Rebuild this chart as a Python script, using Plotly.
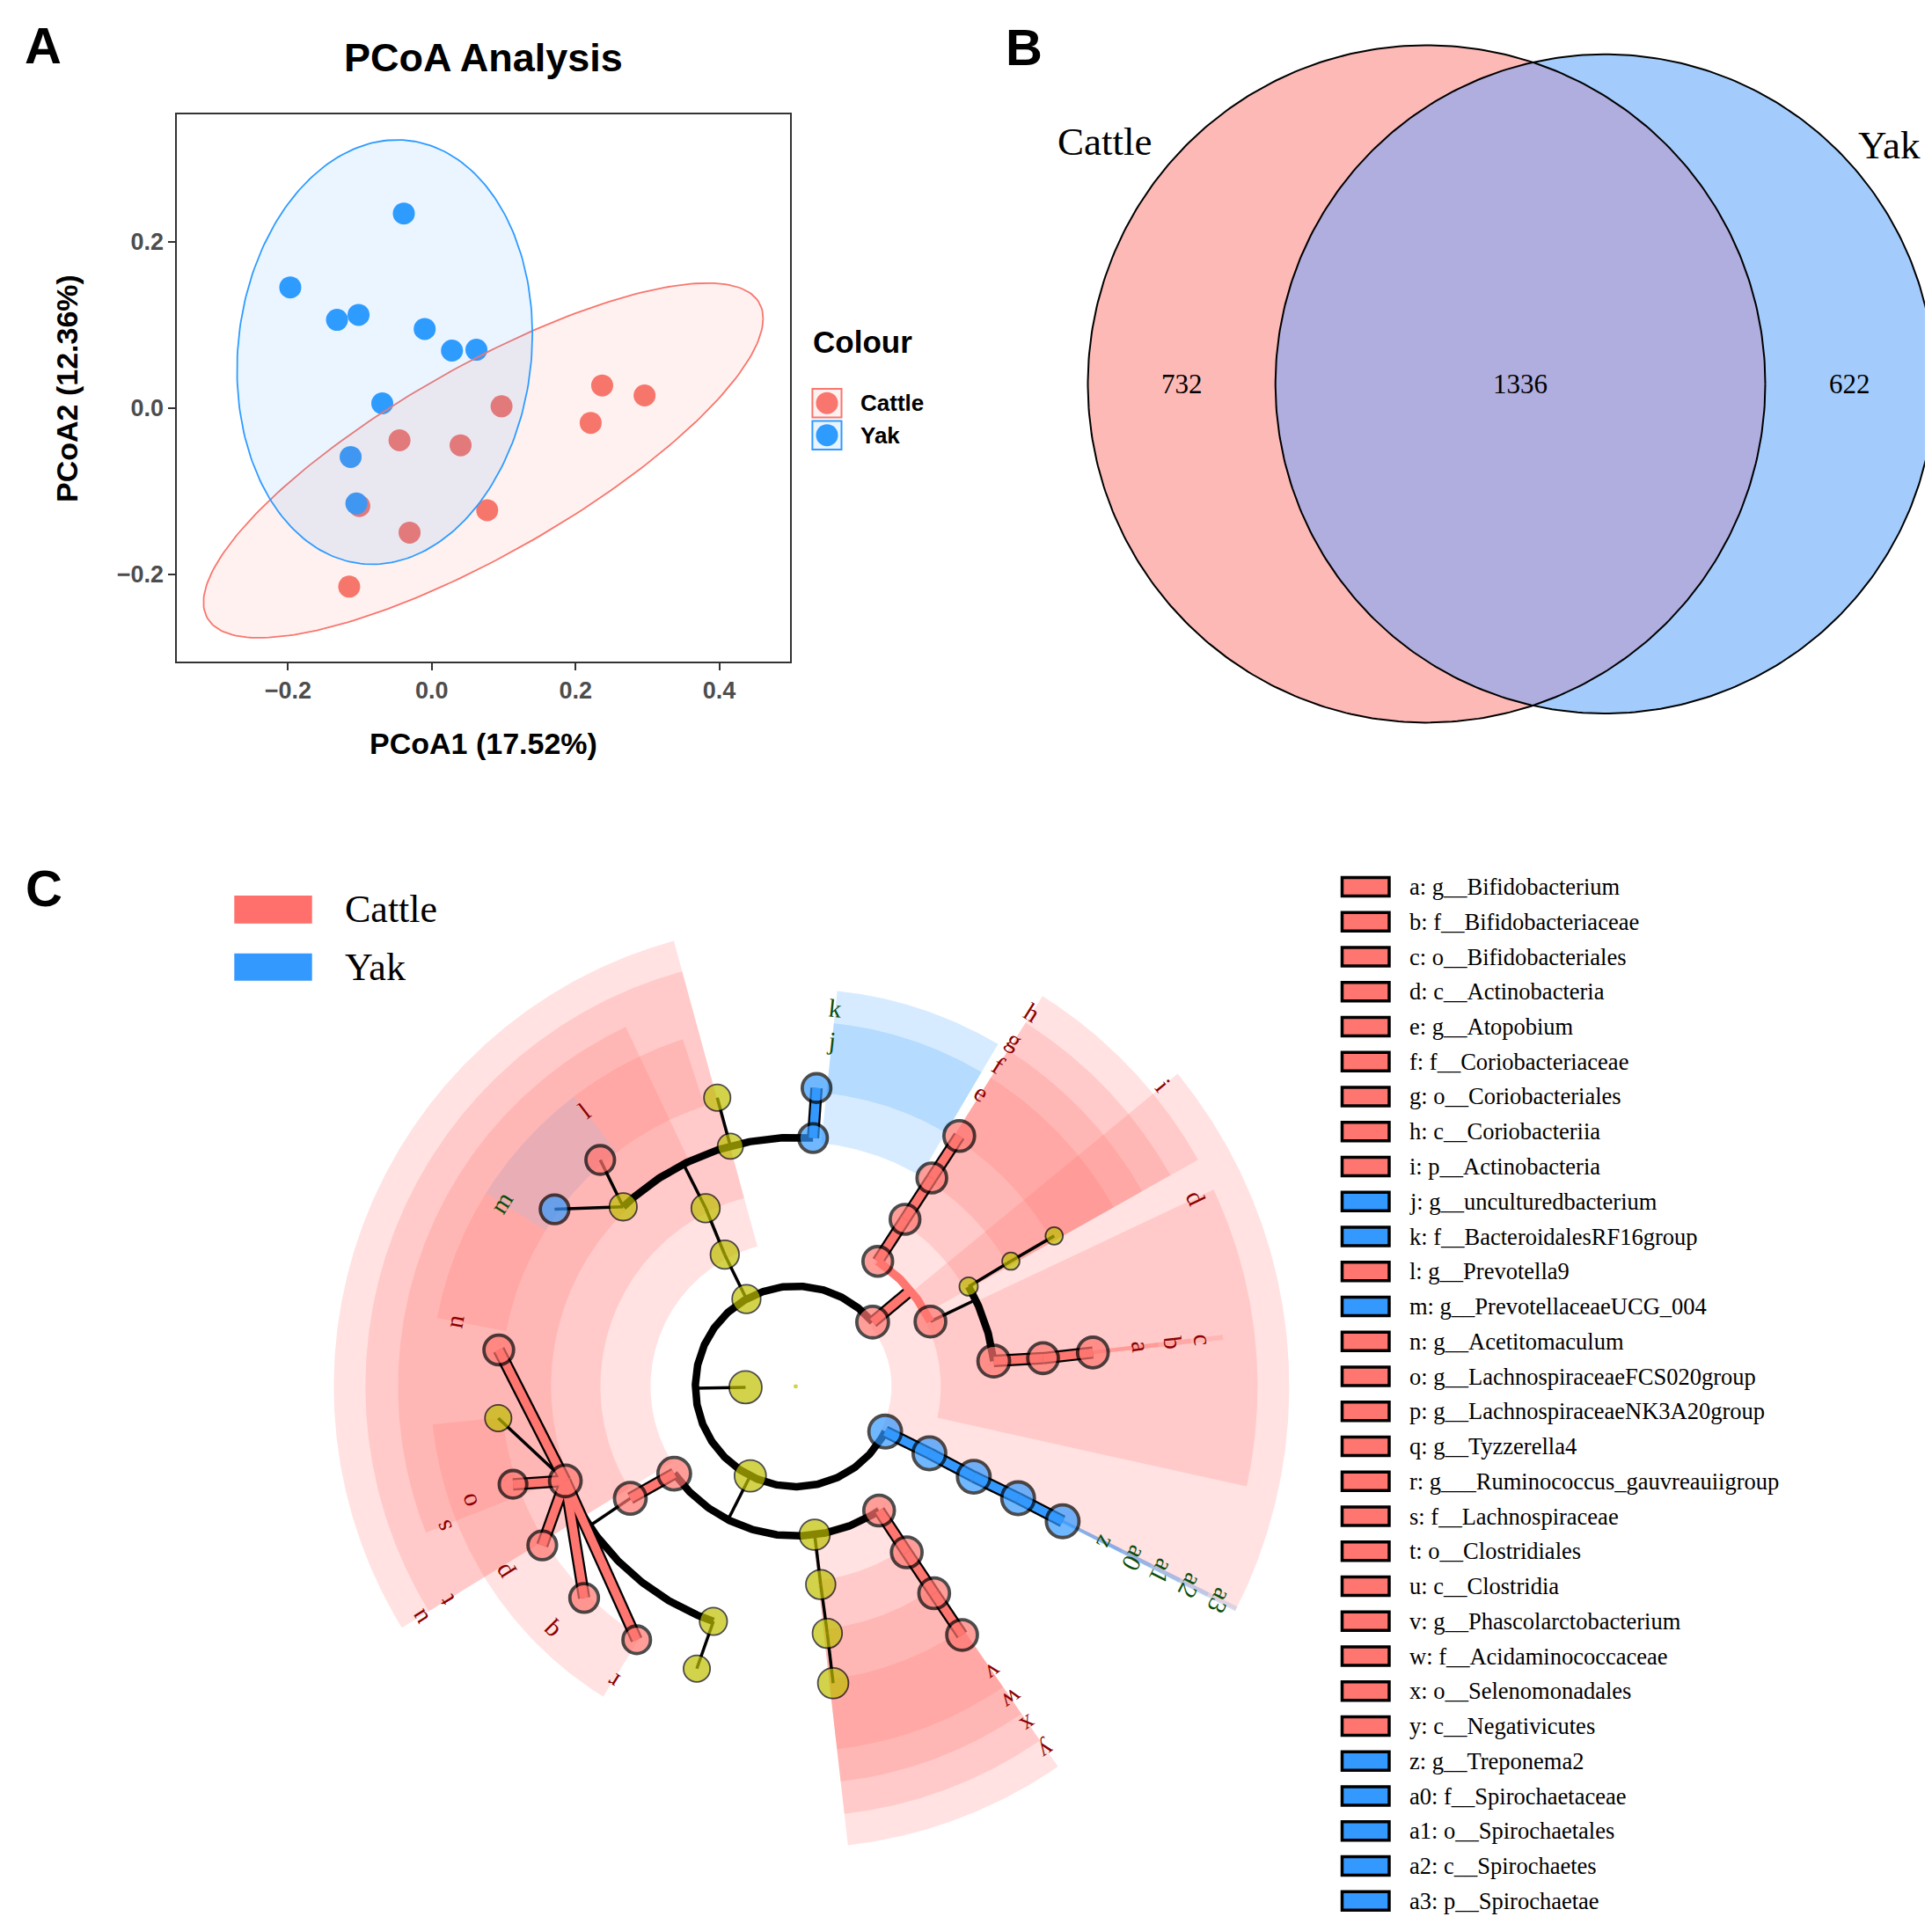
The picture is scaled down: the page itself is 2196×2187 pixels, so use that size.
import numpy as np
import plotly.graph_objects as go

W, H = 2196, 2187

# ======================= DATA =======================
# ---- Panel A : PCoA scores ----
cattle_pc1 = [0.237, 0.296, 0.221, 0.097, -0.045, 0.040, -0.101, 0.077, -0.031, -0.115]
cattle_pc2 = [0.027, 0.015, -0.018, 0.002, -0.039, -0.045, -0.118, -0.123, -0.150, -0.215]
yak_pc1 = [-0.039, -0.197, -0.132, -0.102, -0.010, 0.028, 0.062, -0.069, -0.113, -0.105]
yak_pc2 = [0.234, 0.145, 0.106, 0.112, 0.095, 0.069, 0.070, 0.0055, -0.059, -0.115]
# confidence ellipses: centre and shape matrix
cattle_ell_centre = [0.0716, -0.0632]
cattle_ell_shape = [[0.1516, 0.0665], [0.0665, 0.04554]]
yak_ell_centre = [-0.0656, 0.0672]
yak_ell_shape = [[0.04223, 0.0044], [0.0044, 0.06518]]
pc1_ticks = [-0.2, 0.0, 0.2, 0.4]
pc1_ticktext = ["\u22120.2", "0.0", "0.2", "0.4"]
pc2_ticks = [-0.2, 0.0, 0.2]
pc2_ticktext = ["\u22120.2", "0.0", "0.2"]

# ---- Panel B : Venn counts ----
venn_groups = ["Cattle", "Yak"]
venn_unique = [732, 622]
venn_shared = 1336

# ---- Panel C : cladogram tree (node, parent, level, angle in deg, group, node size) ----
node_id = ["root", "K", "i", "P_Bact", "P_Firm", "a3",
           "h", "d", "C_Bact", "u", "C_Firm2", "y", "a2",
           "g", "c", "O_Act2", "O_Bact", "t", "O_Firm2", "x", "a1",
           "f", "b", "F_Act2", "F_Prev", "F_Bact2", "k", "s", "F_Clos2", "F_Firm2", "w", "a0",
           "e", "a", "G_Act2", "j", "G_Bact2", "l", "m", "n", "G_Lach2", "o", "p", "q", "r",
           "G_Clos2", "G_Firm2", "v", "z"]
node_parent = [None, "root", "K", "K", "K", "K",
               "i", "i", "P_Bact", "P_Firm", "P_Firm", "P_Firm", "a3",
               "h", "d", "d", "C_Bact", "u", "C_Firm2", "y", "a2",
               "g", "c", "O_Act2", "O_Bact", "O_Bact", "O_Bact", "t", "t", "O_Firm2", "x", "a1",
               "f", "b", "F_Act2", "k", "F_Bact2", "F_Prev", "F_Prev", "s", "s", "s", "s", "s", "s",
               "F_Clos2", "F_Firm2", "w", "a0"]
node_level = [0, 1, 2, 2, 2, 2,
              3, 3, 3, 3, 3, 3, 3,
              4, 4, 4, 4, 4, 4, 4, 4,
              5, 5, 5, 5, 5, 5, 5, 5, 5, 5, 5,
              6, 6, 6, 6, 6, 6, 6, 6, 6, 6, 6, 6, 6, 6, 6, 6, 6]
node_angle = [0, 181, 39.9, 119.4, 243.1, 333.2,
              56.7, 25.7, 118.3, 215.7, 277.3, 303.9, 333.4,
              56.8, 7.3, 30.0, 116.8, 214.1, 277.2, 303.8, 333.1,
              56.85, 6.5, 30.2, 133.85, 105.2, 86.0, 202.3, 250.7, 277.3, 303.8, 333.3,
              56.85, 6.5, 30.2, 86.0, 105.2, 130.8, 143.7, 173.0, 186.1, 199.1, 212.1, 225.0, 237.9,
              250.7, 277.2, 303.8, 333.2]
node_group = ["none", "none", "Cattle", "none", "none", "Yak",
              "Cattle", "Cattle", "none", "Cattle", "none", "Cattle", "Yak",
              "Cattle", "Cattle", "none", "none", "Cattle", "none", "Cattle", "Yak",
              "Cattle", "Cattle", "none", "none", "none", "Yak", "Cattle", "none", "none", "Cattle", "Yak",
              "Cattle", "Cattle", "none", "Yak", "none", "Cattle", "Yak", "Cattle", "none", "Cattle",
              "Cattle", "Cattle", "Cattle", "none", "none", "Cattle", "Yak"]
node_size = [6, 34, 33, 30, 33, 34,
             31, 32, 30, 34, 32, 32, 34,
             31, 33, 20, 30, 33, 31, 32, 34,
             31, 32, 19, 29, 27, 30, 33, 29, 31, 32, 34,
             32, 32, 19, 30, 28, 30, 30, 31, 28, 29, 30, 30, 29, 28, 32, 32, 34]
arc_parents = ["K", "i", "d", "P_Firm", "O_Bact", "t"]

# ---- Panel C : biomarkers (letter, taxon, group, level, shaded angular span) ----
bm_letter = ["a", "b", "c", "d", "e", "f", "g", "h", "i", "j", "k", "l", "m", "n", "o",
             "p", "q", "r", "s", "t", "u", "v", "w", "x", "y", "z", "a0", "a1", "a2", "a3"]
bm_taxon = ["g__Bifidobacterium", "f__Bifidobacteriaceae", "o__Bifidobacteriales",
            "c__Actinobacteria", "g__Atopobium", "f__Coriobacteriaceae", "o__Coriobacteriales",
            "c__Coriobacteriia", "p__Actinobacteria", "g__unculturedbacterium",
            "f__BacteroidalesRF16group", "g__Prevotella9", "g__PrevotellaceaeUCG_004",
            "g__Acetitomaculum", "g__LachnospiraceaeFCS020group", "g__LachnospiraceaeNK3A20group",
            "g__Tyzzerella4", "g___Ruminococcus_gauvreauiigroup", "f__Lachnospiraceae",
            "o__Clostridiales", "c__Clostridia", "g__Phascolarctobacterium",
            "f__Acidaminococcaceae", "o__Selenomonadales", "c__Negativicutes",
            "g__Treponema2", "f__Spirochaetaceae", "o__Spirochaetales", "c__Spirochaetes",
            "p__Spirochaetae"]
bm_group = ["Cattle"] * 9 + ["Yak", "Yak", "Cattle", "Yak"] + ["Cattle"] * 12 + ["Yak"] * 5
bm_level = [6, 5, 4, 3, 6, 5, 4, 3, 2, 6, 5, 6, 6, 6, 6, 6, 6, 6, 5, 4, 3, 6, 5, 4, 3, 6, 5, 4, 3, 2]
bm_span_from = [6.2, 6.2, 6.2, -12.5, 29.4, 29.4, 29.4, 29.4, -27.0, 59.4, 59.4, 108.0, 127.4,
                148.0, 186.0, 199.2, 212.3, 224.9, 115.3, 105.3, 105.3, 276.5, 276.5, 276.5,
                276.5, 332.9, 332.9, 332.9, 332.9, 332.9]
bm_span_to = [6.9, 6.9, 6.9, 25.2, 57.7, 57.7, 57.7, 57.7, 39.3, 84.0, 84.0, 127.4, 148.0,
              169.2, 199.2, 212.3, 224.9, 238.2, 201.6, 211.5, 211.5, 304.6, 304.6, 304.6,
              304.6, 333.5, 333.5, 333.5, 333.5, 333.5]

# ======================= STYLE =======================
A_RED, A_BLUE = "#F8766D", "#2E9BFF"
N_RED, N_BLUE, N_YEL = "#FF756F", "#3399FF", "#BFBF00"
GROUP_COL = {"Cattle": N_RED, "Yak": N_BLUE, "none": N_YEL}
WEDGE_COL = {"Cattle": "rgba(255,112,106,0.2)", "Yak": "rgba(51,153,255,0.2)"}
LABEL_COL = {"Cattle": "#8B0000", "Yak": "#0B4D0B"}
SANS, SERIF = "Liberation Sans", "Liberation Serif"
NODE_SCALE = 1.15


def PX(x):
    return x / W


def PY(y):
    return 1 - y / H


fig = go.Figure()


def text(t, x, y, size, family=SANS, color="black", xanchor="center", yanchor="middle",
         angle=0, xref="paper", yref="paper"):
    fig.add_annotation(text=t, x=x, y=y, xref=xref, yref=yref, showarrow=False,
                       font=dict(size=size, family=family, color=color),
                       xanchor=xanchor, yanchor=yanchor, textangle=angle)


# ======================= PANEL A =======================
fig.add_trace(go.Scatter(x=cattle_pc1, y=cattle_pc2, mode="markers", name="Cattle",
                         marker=dict(size=25, color=A_RED), xaxis="x", yaxis="y"))
fig.add_trace(go.Scatter(x=yak_pc1, y=yak_pc2, mode="markers", name="Yak",
                         marker=dict(size=25, color=A_BLUE), xaxis="x", yaxis="y"))


def ellipse_xy(centre, shape, n=240):
    L = np.linalg.cholesky(np.array(shape))
    t = np.linspace(0, 2 * np.pi, n)
    pts = L @ np.vstack([np.cos(t), np.sin(t)])
    return pts[0] + centre[0], pts[1] + centre[1]


for cen, shp, col, fill in [(cattle_ell_centre, cattle_ell_shape, A_RED, "rgba(248,118,109,0.1)"),
                            (yak_ell_centre, yak_ell_shape, A_BLUE, "rgba(46,155,255,0.1)")]:
    ex, ey = ellipse_xy(cen, shp)
    fig.add_trace(go.Scatter(x=ex, y=ey, mode="lines", fill="toself", fillcolor=fill,
                             line=dict(color=col, width=1.8), xaxis="x", yaxis="y",
                             hoverinfo="skip"))

axis_common = dict(showgrid=False, zeroline=False, showline=True, mirror=True,
                   linecolor="#333333", linewidth=1.5, ticks="outside", ticklen=8,
                   tickwidth=1.5, tickcolor="#333333",
                   tickfont=dict(family=SANS, size=27, color="#4D4D4D", weight="bold"))
fig.update_layout(
    xaxis=dict(domain=[PX(193.2), PX(890)], range=[-0.3546, 0.4984], anchor="y",
               tickvals=pc1_ticks, ticktext=pc1_ticktext, **axis_common),
    yaxis=dict(domain=[PY(744.3), PY(122.3)], range=[-0.3055, 0.3529], anchor="x",
               tickvals=pc2_ticks, ticktext=pc2_ticktext, **axis_common),
)
text("<b>A</b>", PX(41), PY(44), 58)
text("<b>PCoA Analysis</b>", PX(541.5), PY(57.7), 45)
text("<b>PCoA1 (17.52%)</b>", PX(541.5), PY(836.7), 34)
text("<b>PCoA2 (12.36%)</b>", PX(68), PY(434), 34, angle=-90)
# legend of panel A
text("<b>Colour</b>", PX(914), PY(380), 35, xanchor="left")
for lab, col, fill, yc in [("Cattle", A_RED, "#FEF1F0", 450.2), ("Yak", A_BLUE, "#EAF4FF", 486.7)]:
    fig.add_shape(type="rect", xref="paper", yref="paper", x0=PX(915.4), x1=PX(948.5),
                  y0=PY(yc + 16.3), y1=PY(yc - 16.3), line=dict(color=col, width=2), fillcolor=fill)
    fig.add_shape(type="circle", xref="paper", yref="paper", x0=PX(932 - 12.5), x1=PX(932 + 12.5),
                  y0=PY(yc + 12.5), y1=PY(yc - 12.5), line=dict(width=0), fillcolor=col)
    text("<b>%s</b>" % lab, PX(967.6), PY(yc), 26, xanchor="left")

# ======================= PANEL B (Venn) =======================
r1 = np.sqrt((venn_unique[0] + venn_shared) / np.pi)
r2 = np.sqrt((venn_unique[1] + venn_shared) / np.pi)


def lens_area(ra, rb, d):
    if d >= ra + rb:
        return 0.0
    if d <= abs(ra - rb):
        return np.pi * min(ra, rb) ** 2
    t1 = ra ** 2 * np.arccos((d * d + ra * ra - rb * rb) / (2 * d * ra))
    t2 = rb ** 2 * np.arccos((d * d + rb * rb - ra * ra) / (2 * d * rb))
    t3 = 0.5 * np.sqrt((-d + ra + rb) * (d + ra - rb) * (d - ra + rb) * (d + ra + rb))
    return t1 + t2 - t3


lo, hi = abs(r1 - r2) + 1e-9, r1 + r2
for _ in range(100):
    mid = 0.5 * (lo + hi)
    if lens_area(r1, r2, mid) > venn_shared:
        lo = mid
    else:
        hi = mid
dv = 0.5 * (lo + hi)

s_px = 385.0 / r1
cxB, cyB = 1613.5, 428.4
xB0, xB1, yB0, yB1 = 1150, 2196, 20, 840
fig.update_layout(
    xaxis2=dict(domain=[PX(xB0), PX(xB1)], range=[(xB0 - cxB) / s_px, (xB1 - cxB) / s_px],
                visible=False, anchor="y2"),
    yaxis2=dict(domain=[PY(yB1), PY(yB0)], range=[(cyB - yB1) / s_px, (cyB - yB0) / s_px],
                visible=False, anchor="x2"),
)
tt = np.linspace(0, 2 * np.pi, 400)
fig.add_trace(go.Scatter(x=r1 * np.cos(tt), y=r1 * np.sin(tt), mode="lines", fill="toself",
                         fillcolor="#FDB9B6", line=dict(width=0), xaxis="x2", yaxis="y2",
                         hoverinfo="skip"))
fig.add_trace(go.Scatter(x=dv + r2 * np.cos(tt), y=r2 * np.sin(tt), mode="lines", fill="toself",
                         fillcolor="#A3CCFC", line=dict(width=0), xaxis="x2", yaxis="y2",
                         hoverinfo="skip"))
ph1 = np.arccos((dv * dv + r1 * r1 - r2 * r2) / (2 * dv * r1))
ph2 = np.arccos((dv * dv + r2 * r2 - r1 * r1) / (2 * dv * r2))
t1 = np.linspace(-ph1, ph1, 200)
t2 = np.linspace(np.pi - ph2, np.pi + ph2, 200)
lx = np.concatenate([r1 * np.cos(t1), dv + r2 * np.cos(t2)])
ly = np.concatenate([r1 * np.sin(t1), r2 * np.sin(t2)])
fig.add_trace(go.Scatter(x=lx, y=ly, mode="lines", fill="toself", fillcolor="#B0ADDF",
                         line=dict(width=0), xaxis="x2", yaxis="y2", hoverinfo="skip"))
for cx0, rr in [(0, r1), (dv, r2)]:
    fig.add_trace(go.Scatter(x=cx0 + rr * np.cos(tt), y=rr * np.sin(tt), mode="lines",
                             line=dict(color="black", width=2), xaxis="x2", yaxis="y2",
                             hoverinfo="skip"))
text("<b>B</b>", PX(1155.5), PY(45.5), 58)
text(venn_groups[0], PX(1247), PY(153), 45, family=SERIF)
text(venn_groups[1], PX(2139.4), PY(157), 45, family=SERIF)
text(str(venn_unique[0]), (-r1 + dv - r2) / 2, 0, 31, family=SERIF, xref="x2", yref="y2")
text(str(venn_shared), (dv - r2 + r1) / 2, 0, 31, family=SERIF, xref="x2", yref="y2")
text(str(venn_unique[1]), (r1 + dv + r2) / 2, 0, 31, family=SERIF, xref="x2", yref="y2")

# ======================= PANEL C (cladogram) =======================
cxC, cyC = 896.4, 1567.9
xC0, xC1, yC0, yC1 = 300, 1500, 1000, 2170
fig.update_layout(
    xaxis3=dict(domain=[PX(xC0), PX(xC1)], range=[xC0 - cxC, xC1 - cxC], visible=False, anchor="y3"),
    yaxis3=dict(domain=[PY(yC1), PY(yC0)], range=[cyC - yC1, cyC - yC0], visible=False, anchor="x3"),
)
LEVEL_R = [0, 57, 114, 170, 227, 283, 340]
WEDGE_RIN = {2: 109, 3: 165, 4: 222, 5: 278, 6: 335}
WEDGE_ROUT = {2: 561, 3: 525, 4: 489, 5: 452, 6: 415}
LABEL_R = {2: 540, 3: 503, 4: 466, 5: 432, 6: 395}


def pol(r, a):
    return r * np.cos(np.radians(a)), r * np.sin(np.radians(a))


# wedges (shaded background): Yak ones first, Cattle ones drawn over them
for gsel in ["Yak", "Cattle"]:
    for L, g, a0, a1 in zip(bm_level, bm_group, bm_span_from, bm_span_to):
        if g != gsel:
            continue
        n = max(3, int((a1 - a0) * 3) + 3)
        ang = np.linspace(a0, a1, n)
        ox, oy = pol(WEDGE_ROUT[L], ang)
        ix, iy = pol(WEDGE_RIN[L], ang[::-1])
        fig.add_trace(go.Scatter(x=np.concatenate([ox, ix, ox[:1]]),
                                 y=np.concatenate([oy, iy, oy[:1]]),
                                 mode="lines", fill="toself", fillcolor=WEDGE_COL[g],
                                 line=dict(width=0), xaxis="x3", yaxis="y3", hoverinfo="skip"))

idx = {nid: k for k, nid in enumerate(node_id)}
thin_x, thin_y = [], []
arc_x, arc_y = [], []
col_seg = {"Cattle": ([], []), "Yak": ([], [])}
col_arc = {"Cattle": ([], []), "Yak": ([], [])}


def add_seg(store, xs, ys):
    store[0].extend(list(xs) + [None])
    store[1].extend(list(ys) + [None])


thin = (thin_x, thin_y)
arcs = (arc_x, arc_y)
children = {}
for k, p in enumerate(node_parent):
    if p is not None:
        children.setdefault(p, []).append(k)

for k, nid in enumerate(node_id):
    p = node_parent[k]
    if p is None or p == "root" or p in arc_parents:
        continue
    pk = idx[p]
    x0, y0 = pol(LEVEL_R[node_level[pk]], node_angle[pk])
    x1, y1 = pol(LEVEL_R[node_level[k]], node_angle[k])
    if node_group[k] == node_group[pk] and node_group[k] != "none":
        add_seg(col_seg[node_group[k]], [x0, x1], [y0, y1])
    else:
        add_seg(thin, [x0, x1], [y0, y1])

for p in arc_parents:
    pk = idx[p]
    kids = children[p]
    rp = LEVEL_R[node_level[pk]]
    rc = LEVEL_R[node_level[pk] + 1]
    same = all(node_group[c] == node_group[pk] for c in kids) and node_group[pk] != "none"
    x0, y0 = pol(rp, node_angle[pk])
    x1, y1 = pol(rc, node_angle[pk])
    angs = [node_angle[c] for c in kids] + [node_angle[pk]]
    aa = np.linspace(min(angs), max(angs), int((max(angs) - min(angs)) * 2) + 2)
    ax_, ay_ = pol(rc, aa)
    if same:
        add_seg(col_seg[node_group[pk]], [x0, x1], [y0, y1])
        add_seg(col_arc[node_group[pk]], ax_, ay_)
    else:
        add_seg(thin, [x0, x1], [y0, y1])
        add_seg(arcs, ax_, ay_)

fig.add_trace(go.Scatter(x=thin_x, y=thin_y, mode="lines", line=dict(color="black", width=3.5),
                         xaxis="x3", yaxis="y3", hoverinfo="skip"))
fig.add_trace(go.Scatter(x=arc_x, y=arc_y, mode="lines", line=dict(color="black", width=8.5),
                         xaxis="x3", yaxis="y3", hoverinfo="skip"))
for g in ["Cattle", "Yak"]:
    fig.add_trace(go.Scatter(x=col_seg[g][0], y=col_seg[g][1], mode="lines",
                             line=dict(color="black", width=14), xaxis="x3", yaxis="y3",
                             hoverinfo="skip"))
for g in ["Cattle", "Yak"]:
    fig.add_trace(go.Scatter(x=col_seg[g][0], y=col_seg[g][1], mode="lines",
                             line=dict(color=GROUP_COL[g], width=9.5), xaxis="x3", yaxis="y3",
                             hoverinfo="skip"))
    fig.add_trace(go.Scatter(x=col_arc[g][0], y=col_arc[g][1], mode="lines",
                             line=dict(color=GROUP_COL[g], width=9.5), xaxis="x3", yaxis="y3",
                             hoverinfo="skip"))

# nodes
for g in ["none", "Cattle", "Yak"]:
    ks = [k for k in range(len(node_id)) if node_group[k] == g]
    xs = [pol(LEVEL_R[node_level[k]], node_angle[k])[0] for k in ks]
    ys = [pol(LEVEL_R[node_level[k]], node_angle[k])[1] for k in ks]
    sz = [node_size[k] * NODE_SCALE - 2 for k in ks]
    lw = [0 if node_id[k] == "root" else (1.8 if g == "none" else 3.8) for k in ks]
    fig.add_trace(go.Scatter(x=xs, y=ys, mode="markers", xaxis="x3", yaxis="y3",
                             marker=dict(size=sz, color=GROUP_COL[g],
                                         line=dict(color="black", width=lw)),
                             hoverinfo="skip"))

# biomarker letters around the cladogram
for let, L, g, a0, a1 in zip(bm_letter, bm_level, bm_group, bm_span_from, bm_span_to):
    a = a1 if (a1 - a0) > 2 else 0.5 * (a0 + a1)
    x, y = pol(LABEL_R[L], a)
    ang = 90 - a
    while ang > 180:
        ang -= 360
    while ang < -180:
        ang += 360
    text(let, x, y, 29, family=SERIF, color=LABEL_COL[g], angle=ang, xref="x3", yref="y3")

text("<b>C</b>", PX(42), PY(1001), 58)
# small legend of groups
for lab, col, y0, y1 in [("Cattle", "#FF6F6B", 1010, 1041.7), ("Yak", "#3399FF", 1075.7, 1106.7)]:
    fig.add_shape(type="rect", xref="paper", yref="paper", x0=PX(258.3), x1=PX(346.7),
                  y0=PY(y1), y1=PY(y0), fillcolor=col, line=dict(width=0))
    text(lab, PX(381.7), PY(0.5 * (y0 + y1)), 44, family=SERIF, xanchor="left")

# big legend list
for k, (let, tax, g) in enumerate(zip(bm_letter, bm_taxon, bm_group)):
    yc = 1000 + 39.75 * k
    fig.add_shape(type="rect", xref="paper", yref="paper", x0=PX(1517.5), x1=PX(1571),
                  y0=PY(yc + 10.5), y1=PY(yc - 10.5), fillcolor=GROUP_COL[g],
                  line=dict(color="black", width=3.5))
    text("%s: %s" % (let, tax), PX(1591.5), PY(yc), 26.5, family=SERIF, xanchor="left")

fig.update_layout(width=W, height=H, margin=dict(l=0, r=0, t=0, b=0),
                  paper_bgcolor="white", plot_bgcolor="white", showlegend=False)
fig.write_html("out.html")
